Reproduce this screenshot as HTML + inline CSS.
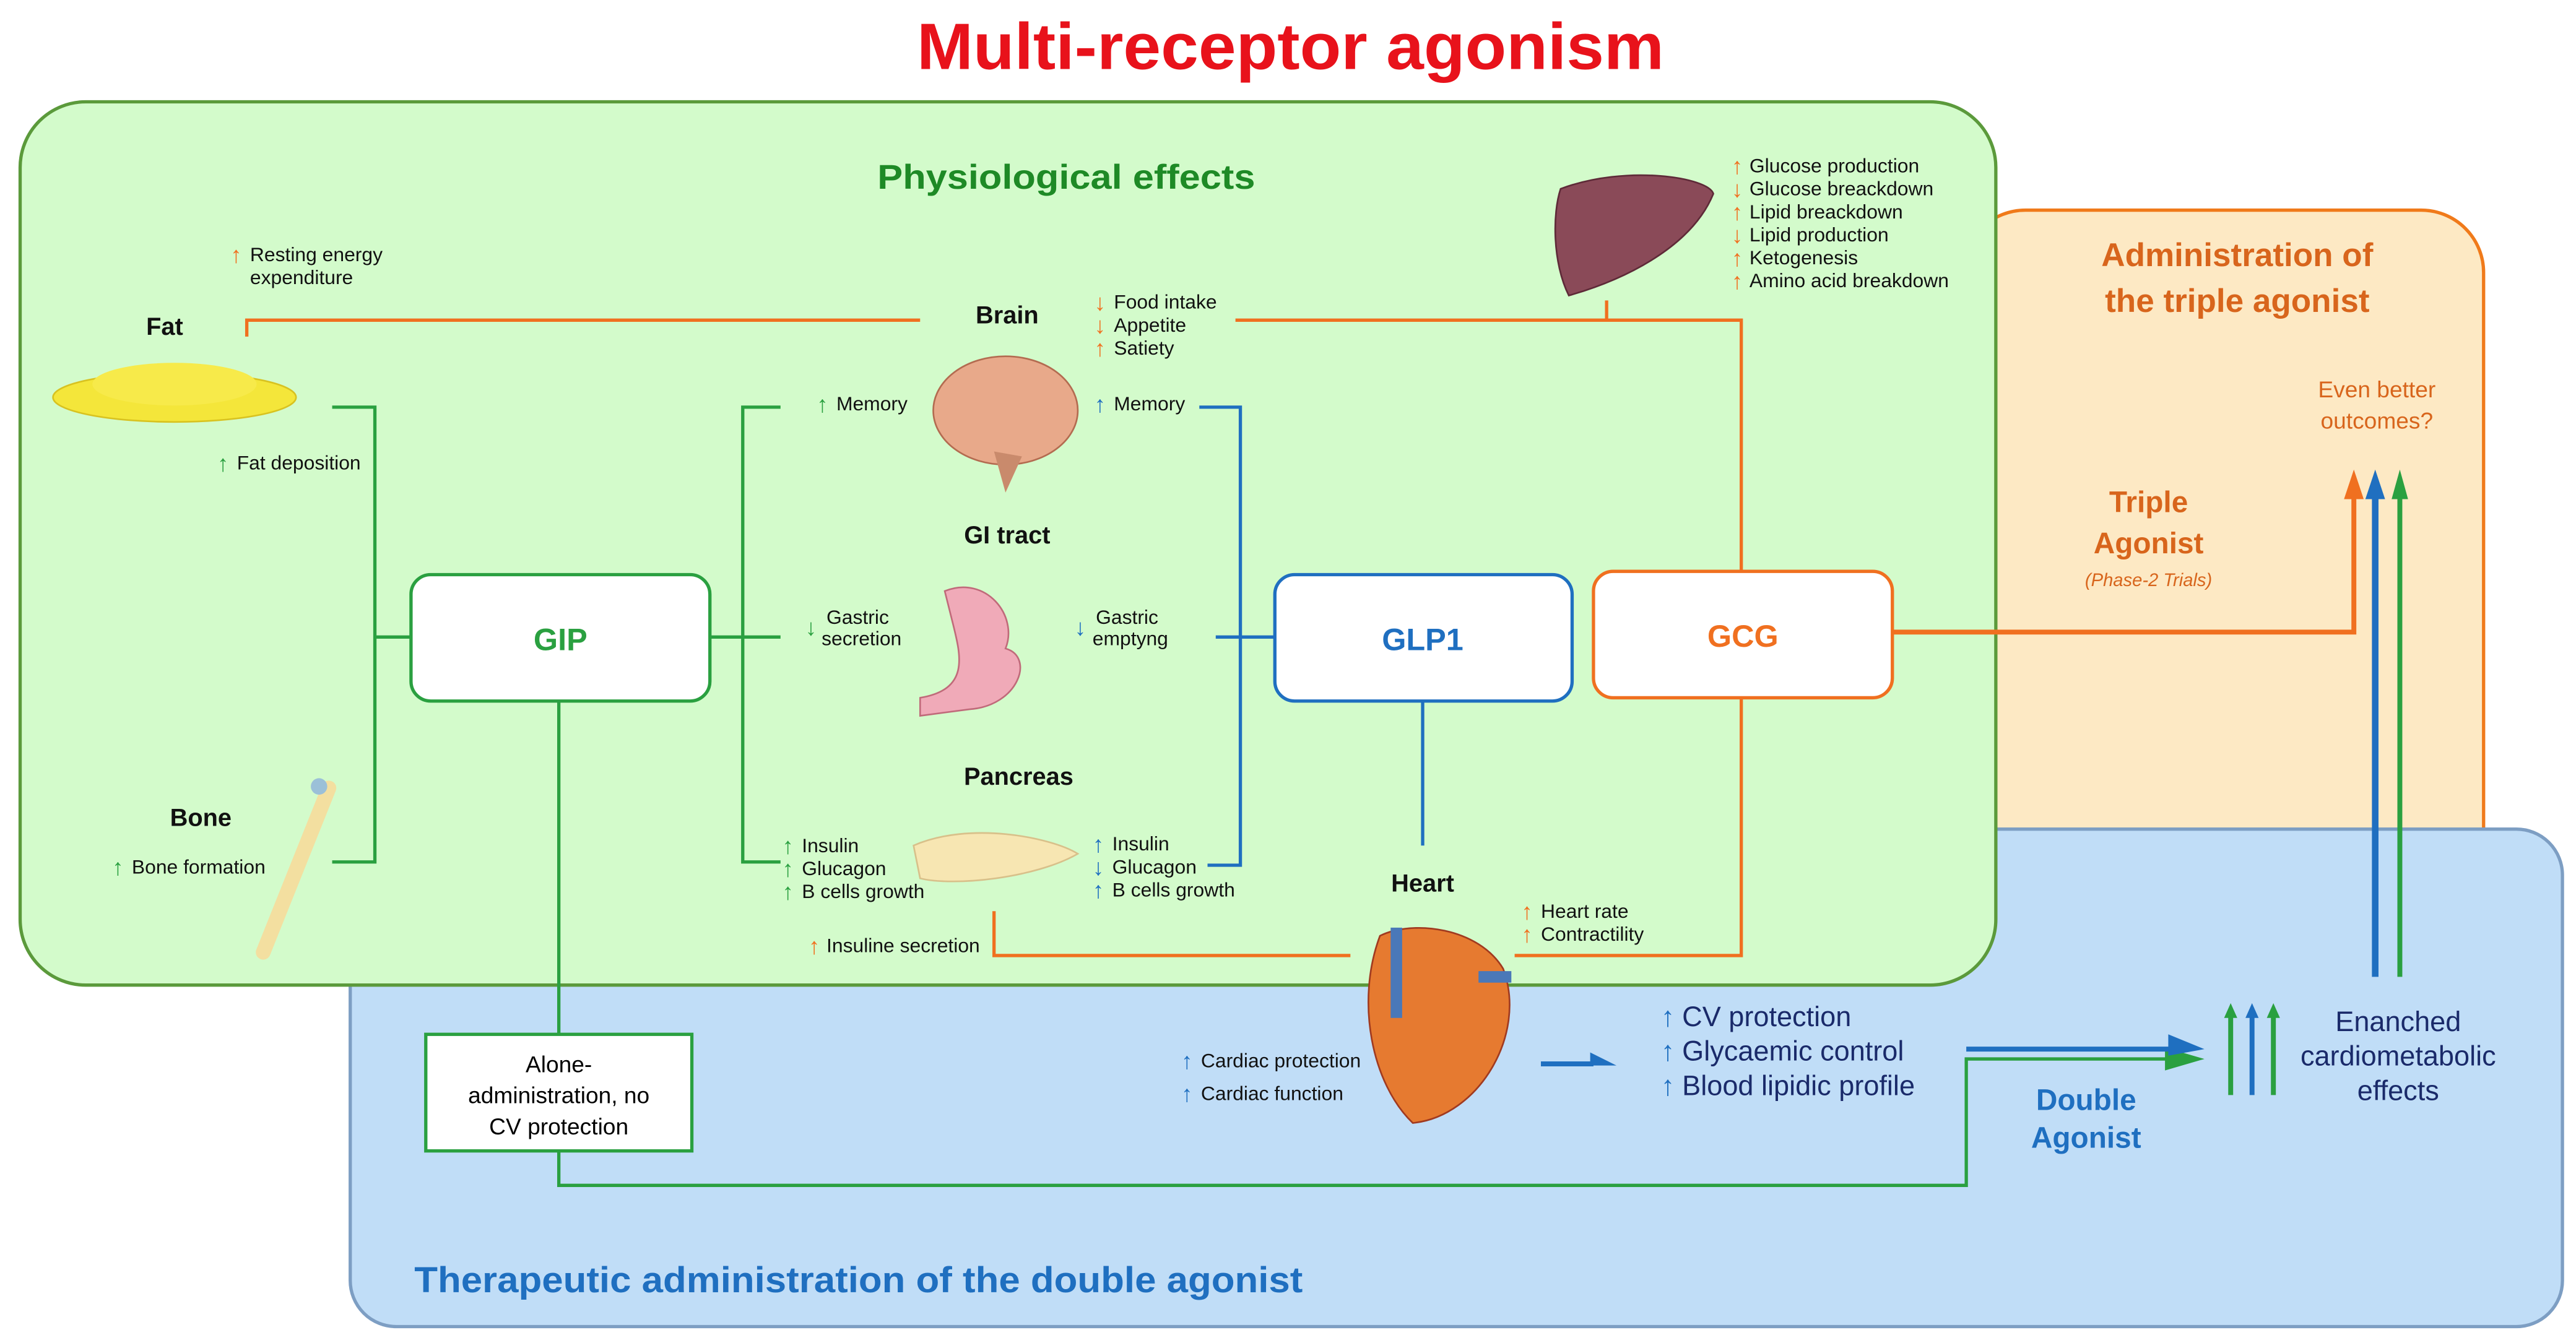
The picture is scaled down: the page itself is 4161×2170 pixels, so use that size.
<!DOCTYPE html>
<html><head><meta charset="utf-8"><style>
html,body{margin:0;padding:0;background:#fff;}
svg{display:block;}
text{font-family:"Liberation Sans",sans-serif;}
</style></head><body>
<svg width="4161" height="2170" viewBox="0 0 1568 818" xmlns="http://www.w3.org/2000/svg">
<rect width="1568" height="818" fill="#fff"/>
<text x="558" y="42" textLength="455" lengthAdjust="spacingAndGlyphs" font-size="40" font-weight="bold" fill="#e8121b">Multi-receptor agonism</text>

<!-- panels -->
<rect x="1195" y="128" width="317" height="420" rx="38" fill="#fde9c4" stroke="#f07a1a" stroke-width="2"/>
<rect x="213" y="505" width="1347" height="303" rx="28" fill="#c0ddf7" stroke="#7d9ec3" stroke-width="2"/>
<rect x="12" y="62" width="1203" height="538" rx="40" fill="#d3fbcb" stroke="#5b9a3b" stroke-width="2"/>

<text x="534" y="115" textLength="230" lengthAdjust="spacingAndGlyphs" font-size="21" font-weight="bold" fill="#1e8a26">Physiological effects</text>
<text x="1362" y="162" text-anchor="middle" font-size="20" font-weight="bold" fill="#d8651c">Administration of</text>
<text x="1362" y="190" text-anchor="middle" font-size="20" font-weight="bold" fill="#d8651c">the triple agonist</text>
<text x="1447" y="242" text-anchor="middle" font-size="14" fill="#d8651c">Even better</text>
<text x="1447" y="261" text-anchor="middle" font-size="14" fill="#d8651c">outcomes?</text>
<text x="1308" y="312" text-anchor="middle" font-size="18" font-weight="bold" fill="#d8651c">Triple</text>
<text x="1308" y="337" text-anchor="middle" font-size="18" font-weight="bold" fill="#d8651c">Agonist</text>
<text x="1308" y="357" text-anchor="middle" font-size="11" font-style="italic" fill="#d8651c">(Phase-2 Trials)</text>
<text x="252" y="787" textLength="541" lengthAdjust="spacingAndGlyphs" font-size="22" font-weight="bold" fill="#1f6fc0">Therapeutic administration of the double agonist</text>

<!-- green lines -->
<g stroke="#2aa040" stroke-width="2" fill="none">
<path d="M202,248 H228 V525 H202"/>
<path d="M228,388 H250"/>
<path d="M432,388 H452"/>
<path d="M475,248 H452 V525 H475"/>
<path d="M452,388 H475"/>
<path d="M340,427 V630"/>
<path d="M340,701 V722 H1197 V645 H1320"/>
<path d="M1358,667 V618 M1384,667 V618 M1461,595 V300" stroke-width="3"/>
</g>
<path d="M1318,638 L1342,645 L1318,652z" fill="#2aa040"/>
<!-- blue lines -->
<g stroke="#1f6fc0" stroke-width="2" fill="none">
<path d="M730,248 H755 V527 H735"/>
<path d="M740,388 H776"/>
<path d="M866,427 V515"/>
<path d="M1197,639 H1322" stroke-width="3"/>
<path d="M938,648 H970" stroke-width="3"/>
<path d="M1371,667 V618" stroke-width="3"/>
<path d="M1446,595 V300" stroke-width="4"/>
</g>
<path d="M1320,630 L1342,639 L1320,643z" fill="#1f6fc0"/>
<path d="M968,641 L984,649 L968,649z" fill="#1f6fc0"/>
<path d="M1354,620 L1358,611 L1362,620z M1380,620 L1384,611 L1388,620z" fill="#2aa040"/>
<path d="M1367,620 L1371,611 L1375,620z" fill="#1f6fc0"/>
<path d="M1440,304 L1446,286 L1452,304z" fill="#1f6fc0"/>
<path d="M1456,304 L1461,286 L1466,304z" fill="#2aa040"/>
<!-- orange lines -->
<g stroke="#f07020" stroke-width="2" fill="none">
<path d="M150,205 V195 H560"/>
<path d="M752,195 H1060 V348"/>
<path d="M978,183 V195"/>
<path d="M1060,425 V582 H922"/>
<path d="M605,555 V582 H822"/>
<path d="M1152,385 H1433 V304" stroke-width="3"/>
</g>
<path d="M1427,304 L1433,286 L1439,304z" fill="#f07020"/>

<!-- boxes -->
<rect x="250" y="350" width="182" height="77" rx="12" fill="#fff" stroke="#2aa040" stroke-width="2"/>
<text x="341" y="396" text-anchor="middle" font-size="19" font-weight="bold" fill="#2aa040">GIP</text>
<rect x="776" y="350" width="181" height="77" rx="12" fill="#fff" stroke="#1f6fc0" stroke-width="2"/>
<text x="866" y="396" text-anchor="middle" font-size="19" font-weight="bold" fill="#1f6fc0">GLP1</text>
<rect x="970" y="348" width="182" height="77" rx="12" fill="#fff" stroke="#f07020" stroke-width="2"/>
<text x="1061" y="394" text-anchor="middle" font-size="19" font-weight="bold" fill="#f07020">GCG</text>
<rect x="259" y="630" width="162" height="71" fill="#fff" stroke="#2aa040" stroke-width="2"/>
<text x="340" y="653" text-anchor="middle" font-size="14">Alone-</text>
<text x="340" y="672" text-anchor="middle" font-size="14">administration, no</text>
<text x="340" y="691" text-anchor="middle" font-size="14">CV protection</text>

<!-- organs -->
<ellipse cx="106" cy="242" rx="74" ry="15" fill="#f4e63a" stroke="#d8c220"/>
<ellipse cx="106" cy="234" rx="50" ry="13" fill="#f7ea4a"/>
<path d="M160,580 L200,480" stroke="#f3dfa0" stroke-width="9" stroke-linecap="round"/>
<circle cx="194" cy="479" r="5" fill="#9bc0d8"/>
<ellipse cx="612" cy="250" rx="44" ry="33" fill="#e8a98a" stroke="#b36b50"/>
<path d="M605,275 L612,300 L622,278z" fill="#c98a6c"/>
<path d="M575,360 C600,350 620,375 612,395 C630,400 620,430 590,432 L560,436 L560,425 C590,420 585,400 580,380z" fill="#f0aab8" stroke="#c06a7a"/>
<path d="M556,515 C590,500 640,510 656,520 C630,535 580,540 560,535z" fill="#f7e6b2" stroke="#d8c08a"/>
<path d="M950,115 C990,100 1040,108 1043,118 C1030,150 990,170 955,180 C945,160 945,130 950,115z" fill="#8a4a58" stroke="#5e2a38"/>
<path d="M840,570 C860,560 900,565 915,590 C930,630 900,680 860,684 C835,660 825,610 840,570z" fill="#e67a30" stroke="#a03a20"/>
<path d="M850,565 V620 M900,595 H920" stroke="#4a78b8" stroke-width="7"/>

<!-- labels -->
<g font-size="15" font-weight="bold" fill="#111">
<text x="100" y="204" text-anchor="middle">Fat</text>
<text x="122" y="503" text-anchor="middle">Bone</text>
<text x="613" y="197" text-anchor="middle">Brain</text>
<text x="613" y="331" text-anchor="middle">GI tract</text>
<text x="620" y="478" text-anchor="middle">Pancreas</text>
<text x="866" y="543" text-anchor="middle">Heart</text>
</g>
<g font-size="12" fill="#111">
<text x="152" y="159">Resting energy</text><text x="152" y="173">expenditure</text>
<text x="144" y="286">Fat deposition</text>
<text x="80" y="532">Bone formation</text>
<text x="509" y="250">Memory</text>
<text x="678" y="250">Memory</text>
<text x="678" y="188">Food intake</text><text x="678" y="202">Appetite</text><text x="678" y="216">Satiety</text>
<text x="503" y="380">Gastric</text><text x="500" y="393">secretion</text>
<text x="667" y="380">Gastric</text><text x="665" y="393">emptyng</text>
<text x="488" y="519">Insulin</text><text x="488" y="533">Glucagon</text><text x="488" y="547">B cells growth</text>
<text x="677" y="518">Insulin</text><text x="677" y="532">Glucagon</text><text x="677" y="546">B cells growth</text>
<text x="503" y="580">Insuline secretion</text>
<text x="1065" y="105">Glucose production</text><text x="1065" y="119">Glucose breackdown</text><text x="1065" y="133">Lipid breackdown</text><text x="1065" y="147">Lipid production</text><text x="1065" y="161">Ketogenesis</text><text x="1065" y="175">Amino acid breakdown</text>
<text x="938" y="559">Heart rate</text><text x="938" y="573">Contractility</text>
<text x="731" y="650">Cardiac protection</text><text x="731" y="670">Cardiac function</text>
</g>
<g font-size="14" font-weight="bold">
<text x="140" y="160" fill="#f07020">↑</text>
<text x="132" y="287" fill="#2aa040">↑</text>
<text x="68" y="533" fill="#2aa040">↑</text>
<text x="497" y="251" fill="#2aa040">↑</text>
<text x="666" y="251" fill="#1f6fc0">↑</text>
<text x="666" y="189" fill="#f07020">↓</text><text x="666" y="203" fill="#f07020">↓</text><text x="666" y="217" fill="#f07020">↑</text>
<text x="490" y="387" fill="#2aa040">↓</text>
<text x="654" y="387" fill="#1f6fc0">↓</text>
<text x="476" y="520" fill="#2aa040">↑</text><text x="476" y="534" fill="#2aa040">↑</text><text x="476" y="548" fill="#2aa040">↑</text>
<text x="665" y="519" fill="#1f6fc0">↑</text><text x="665" y="533" fill="#1f6fc0">↓</text><text x="665" y="547" fill="#1f6fc0">↑</text>
<text x="492" y="581" fill="#f07020">↑</text>
<text x="1054" y="106" fill="#f07020">↑</text><text x="1054" y="120" fill="#f07020">↓</text><text x="1054" y="134" fill="#f07020">↑</text><text x="1054" y="148" fill="#f07020">↓</text><text x="1054" y="162" fill="#f07020">↑</text><text x="1054" y="176" fill="#f07020">↑</text>
<text x="926" y="560" fill="#f07020">↑</text><text x="926" y="574" fill="#f07020">↑</text>
<text x="719" y="651" fill="#1f6fc0">↑</text><text x="719" y="671" fill="#1f6fc0">↑</text>
</g>
<g font-size="17" fill="#1a2a6a">
<text x="1024" y="625">CV protection</text>
<text x="1024" y="646">Glycaemic control</text>
<text x="1024" y="667">Blood lipidic profile</text>
</g>
<g font-size="17" font-weight="bold" fill="#1f6fc0">
<text x="1011" y="625">↑</text><text x="1011" y="646">↑</text><text x="1011" y="667">↑</text>
<text x="1270" y="676" text-anchor="middle" font-size="18">Double</text>
<text x="1270" y="699" text-anchor="middle" font-size="18">Agonist</text>
</g>
<g font-size="17" fill="#1a2a6a" text-anchor="middle">
<text x="1460" y="628">Enanched</text><text x="1460" y="649">cardiometabolic</text><text x="1460" y="670">effects</text>
</g>
</svg>
</body></html>
